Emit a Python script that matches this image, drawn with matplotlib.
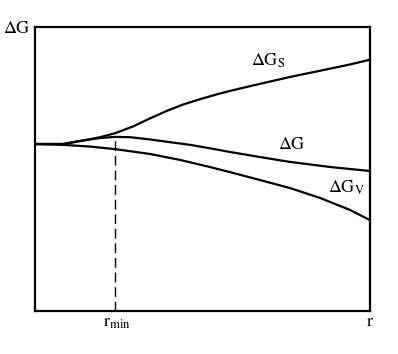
import matplotlib
matplotlib.use('Agg')
import matplotlib.pyplot as plt

plt.rcParams['mathtext.fontset'] = 'stix'
plt.rcParams['font.family'] = ['Liberation Serif', 'DejaVu Serif']

# r axis positions and the three curves (arbitrary units)
r_s = [0, 0.84, 1.34, 1.94, 2.39, 2.93, 3.43, 3.94, 4.42, 4.93, 5.43, 5.82, 6.72, 7.61, 8.51, 9.40, 10]
dG_s = [5.88, 5.88, 5.98, 6.12, 6.26, 6.50, 6.78, 7.05, 7.27, 7.46, 7.63, 7.75, 8.00, 8.24, 8.46, 8.68, 8.85]

r_g = [0, 0.84, 1.34, 1.94, 2.39, 2.84, 3.43, 4.63, 5.22, 5.82, 6.72, 7.61, 8.81, 10]
dG = [5.88, 5.88, 5.99, 6.09, 6.13, 6.12, 6.04, 5.85, 5.73, 5.60, 5.42, 5.25, 5.07, 4.93]

r_v = [0, 0.84, 1.64, 2.39, 3.43, 4.33, 5.22, 5.82, 6.72, 7.61, 8.51, 9.40, 10]
dG_v = [5.88, 5.85, 5.79, 5.70, 5.53, 5.32, 5.07, 4.89, 4.61, 4.33, 3.98, 3.56, 3.20]

r_min = 2.39
dG_at_rmin = 6.13

fig = plt.figure(figsize=(3.98, 3.54), dpi=100)
ax = fig.add_axes([35/398, 43/354, 335/398, 284/354])

lw = 1.6
ax.plot(r_s, dG_s, color='black', lw=lw)
ax.plot(r_g, dG, color='black', lw=lw)
ax.plot(r_v, dG_v, color='black', lw=lw)
ax.plot([r_min, r_min], [0, dG_at_rmin], color='black', lw=1.0, dashes=(7, 3.5))

ax.set_xlim(0, 10)
ax.set_ylim(0, 10)
ax.set_xticks([])
ax.set_yticks([])
for s in ax.spines.values():
    s.set_linewidth(1.6)

fs = 13
ax.text(6.95, 8.80, r'$\mathrm{\Delta G_S}$', fontsize=fs, ha='center', va='center')
ax.text(7.67, 5.85, r'$\mathrm{\Delta G}$', fontsize=fs, ha='center', va='center')
ax.text(9.31, 4.33, r'$\mathrm{\Delta G_V}$', fontsize=fs, ha='center', va='center')
ax.text(-0.54, 9.93, r'$\mathrm{\Delta G}$', fontsize=fs, ha='center', va='center', clip_on=False)
ax.text(2.45, -0.42, r'$\mathrm{r_{min}}$', fontsize=fs, ha='center', va='center', clip_on=False)
ax.text(10, -0.38, r'$\mathrm{r}$', fontsize=fs, ha='center', va='center', clip_on=False)

fig.savefig('out.png', dpi=100)
